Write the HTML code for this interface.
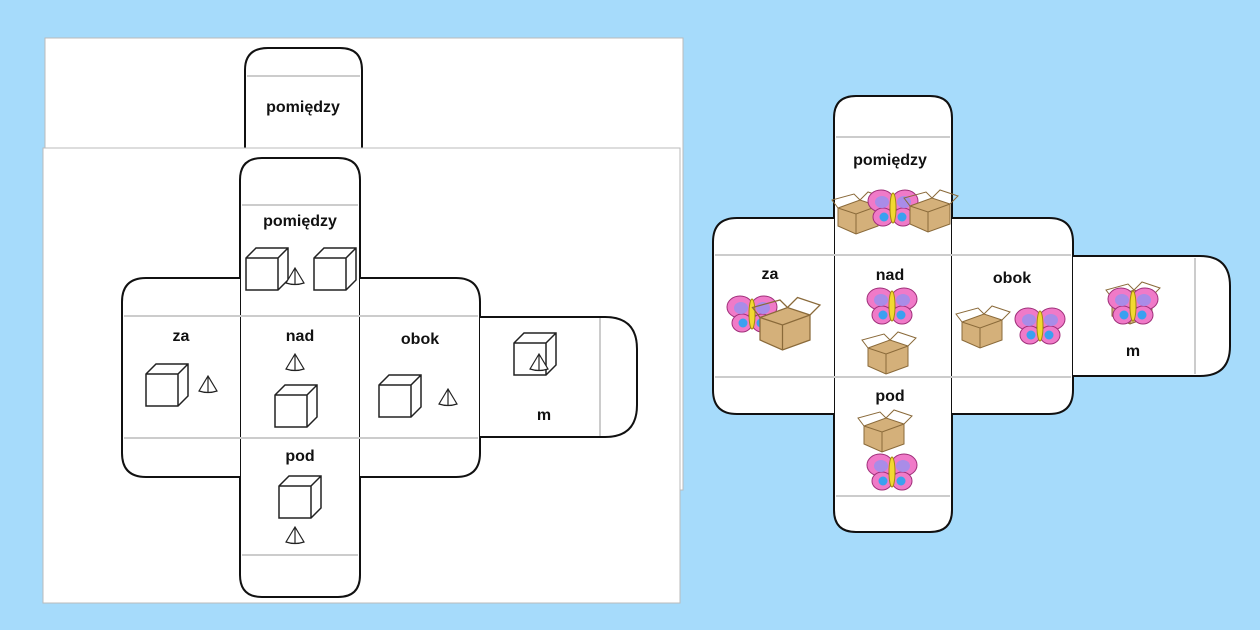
<!DOCTYPE html>
<html><head><meta charset="utf-8"><style>
html,body{margin:0;padding:0;background:#a6dbfb;}
svg{display:block}
text{font-family:"Liberation Sans",sans-serif;font-weight:bold;fill:#111;text-anchor:middle}
</style></head><body>
<svg width="1260" height="630" viewBox="0 0 1260 630" xmlns="http://www.w3.org/2000/svg">
<defs>
<g id="cube"><path d="M0 10 L10 0 L42 0 L42 32 L32 42 L0 42 Z M0 10 L32 10 L32 42 M32 10 L42 0" fill="#fff" stroke="#222" stroke-width="1.5"/></g>
<g id="cone"><path d="M0 15 L9 0 L18 15 Q9 18 0 15 Z M9 0 L9 17" fill="#fff" stroke="#222" stroke-width="1.2"/></g>
<g id="bf">
<ellipse cx="-12" cy="-7" rx="13" ry="11" fill="#f07ac8" stroke="#a0307a"/>
<ellipse cx="12" cy="-7" rx="13" ry="11" fill="#f07ac8" stroke="#a0307a"/>
<ellipse cx="-10" cy="9" rx="10" ry="9" fill="#f07ac8" stroke="#a0307a"/>
<ellipse cx="10" cy="9" rx="10" ry="9" fill="#f07ac8" stroke="#a0307a"/>
<ellipse cx="-11" cy="-6" rx="7" ry="6" fill="#a98ce8"/><ellipse cx="11" cy="-6" rx="7" ry="6" fill="#a98ce8"/>
<circle cx="-9" cy="9" r="4.5" fill="#3aa0f0"/><circle cx="9" cy="9" r="4.5" fill="#3aa0f0"/>
<ellipse cx="0" cy="0" rx="3" ry="15" fill="#f2d930" stroke="#a08a10"/>
</g>
<g id="box"><path d="M0 8 L22 0 L40 6 L40 26 L18 34 L0 26 Z" fill="#d4b07a" stroke="#8a6a3a"/><path d="M0 8 L18 14 L40 6 M18 14 L18 34 M0 8 L-6 0 L16 -6 L22 0 M40 6 L48 -2 L30 -8 L22 0" fill="none" stroke="#8a6a3a"/></g>
</defs>

<rect x="45" y="38" width="638" height="452" fill="#fff" stroke="#bbb"/>
<path d="M245 150 L245 70 Q245 48 268 48 L340 48 Q362 48 362 70 L362 150" fill="#fff" stroke="#111" stroke-width="2"/>
<line x1="247" y1="76" x2="360" y2="76" stroke="#ccc" stroke-width="2"/>
<text x="303" y="112" font-size="16">pomiędzy</text>
<rect x="43" y="148" width="637" height="455" fill="#fff" stroke="#bbb"/>

<g fill="#fff" stroke="#111" stroke-width="2">
<path d="M240 180 Q240 158 262 158 L338 158 Q360 158 360 180 L360 575 Q360 597 338 597 L262 597 Q240 597 240 575 Z"/>
<path d="M240 278 L146 278 Q122 278 122 302 L122 453 Q122 477 146 477 L240 477"/>
<path d="M360 278 L456 278 Q480 278 480 302 L480 453 Q480 477 456 477 L360 477"/>
<path d="M480 317 L605 317 Q637 317 637 349 L637 405 Q637 437 605 437 L480 437"/>
</g>
<g stroke="#ccc" stroke-width="2">
<line x1="242" y1="205" x2="358" y2="205"/><line x1="242" y1="555" x2="358" y2="555"/>
<line x1="124" y1="316" x2="478" y2="316"/><line x1="124" y1="438" x2="478" y2="438"/>
<line x1="600" y1="318" x2="600" y2="436"/>
</g>
<text x="300" y="226" font-size="16">pomiędzy</text>
<text x="181" y="341" font-size="16">za</text>
<text x="300" y="341" font-size="16">nad</text>
<text x="420" y="344" font-size="16">obok</text>
<text x="544" y="420" font-size="16">m</text>
<text x="300" y="461" font-size="16">pod</text>
<use href="#cube" x="246" y="248"/><use href="#cone" x="286" y="268"/><use href="#cube" x="314" y="248"/>
<use href="#cube" x="146" y="364"/><use href="#cone" x="199" y="376"/>
<use href="#cone" x="286" y="354"/><use href="#cube" x="275" y="385"/>
<use href="#cube" x="379" y="375"/><use href="#cone" x="439" y="389"/>
<use href="#cube" x="514" y="333"/><use href="#cone" x="530" y="354"/>
<use href="#cube" x="279" y="476"/><use href="#cone" x="286" y="527"/>

<g fill="#fff" stroke="#111" stroke-width="2">
<path d="M834 118 Q834 96 856 96 L930 96 Q952 96 952 118 L952 510 Q952 532 930 532 L856 532 Q834 532 834 510 Z"/>
<path d="M834 218 L737 218 Q713 218 713 242 L713 390 Q713 414 737 414 L834 414"/>
<path d="M952 218 L1049 218 Q1073 218 1073 242 L1073 390 Q1073 414 1049 414 L952 414"/>
<path d="M1073 256 L1200 256 Q1230 256 1230 286 L1230 346 Q1230 376 1200 376 L1073 376"/>
</g>
<g stroke="#ccc" stroke-width="2">
<line x1="836" y1="137" x2="950" y2="137"/><line x1="836" y1="496" x2="950" y2="496"/>
<line x1="715" y1="255" x2="1071" y2="255"/><line x1="715" y1="377" x2="1071" y2="377"/>
<line x1="1195" y1="258" x2="1195" y2="374"/>
</g>
<text x="890" y="165" font-size="16">pomiędzy</text>
<text x="770" y="279" font-size="16">za</text>
<text x="890" y="280" font-size="16">nad</text>
<text x="1012" y="283" font-size="16">obok</text>
<text x="1133" y="356" font-size="16">m</text>
<text x="890" y="401" font-size="16">pod</text>
<use href="#box" x="838" y="200"/><use href="#bf" x="893" y="208"/><use href="#box" x="910" y="198"/>
<use href="#bf" x="752" y="314"/><use href="#box" x="760" y="310" transform="translate(-190 -80) scale(1.25)"/>
<use href="#bf" x="892" y="306"/><use href="#box" x="868" y="340"/>
<use href="#box" x="962" y="314"/><use href="#bf" x="1040" y="326"/>
<use href="#box" x="1112" y="290"/><use href="#bf" x="1133" y="306"/>
<use href="#box" x="864" y="418"/><use href="#bf" x="892" y="472"/>
</svg>
</body></html>
